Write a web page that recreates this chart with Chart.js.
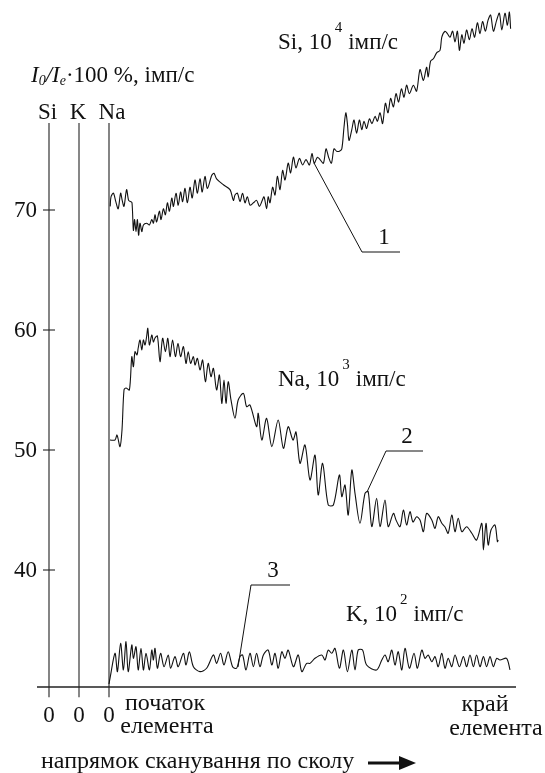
<!DOCTYPE html>
<html><head><meta charset="utf-8">
<script src="https://cdn.jsdelivr.net/npm/chart.js@4/dist/chart.umd.min.js"></script>
<style>html,body{margin:0;padding:0;background:#fff;}canvas{display:block;}</style>
</head><body>
<canvas id="c" width="545" height="773"></canvas>
<script>
// ---- data (scan position 0..100 %, chart units) ----
const siScan = [0.3,0.5,1.1,1.7,2.3,2.9,3.3,3.75,4.4,4.9,5.4,5.75,6.1,6.4,6.75,7.1,7.4,7.75,8.2,8.6,9.4,10.1,10.7,11.1,11.5,11.9,12.6,13.0,13.6,14.1,14.6,15.1,15.7,16.1,16.75,17.3,17.9,18.4,19.0,19.6,20.25,20.8,21.5,22.1,22.75,23.3,24.0,24.6,25.7,26.25,26.9,28.6,30.25,31.1,31.5,32.1,32.75,33.4,34.0,34.6,35.25,36.1,36.9,37.6,38.2,38.75,39.4,39.8,40.25,40.9,41.5,42.1,42.75,43.4,44.0,44.8,45.4,46.1,46.75,47.6,48.4,49.25,50.1,50.75,51.3,52.1,52.75,53.6,54.25,54.9,55.6,56.25,56.9,57.6,58.2,58.75,59.2,59.6,60.0,60.7,61.25,61.9,62.6,63.2,63.75,64.4,65.1,65.75,66.5,67.1,67.75,68.4,69.1,69.75,70.4,71.1,71.75,72.4,73.1,73.75,74.4,75.1,76.1,76.9,77.75,78.6,79.4,79.8,80.4,81.1,81.9,82.75,83.2,84.0,84.6,85.25,85.9,86.5,87.1,87.6,88.2,88.75,89.4,90.1,90.75,91.4,92.1,92.75,93.4,94.1,94.75,95.4,96.1,96.9,97.6,98.2,99.0,99.6,100.1,100.4];
const siValue = [70.3,71.1,71.4,70.7,70.1,71.4,70.8,70.3,71.7,70.8,70.7,70.6,68.3,69.2,68.2,69.2,67.9,68.9,68.2,68.75,68.9,68.75,69.2,68.9,69.6,69.0,69.9,69.2,70.1,69.6,70.6,69.9,71.0,70.3,71.4,70.4,71.5,70.7,71.8,70.6,71.9,71.0,72.5,71.4,72.6,71.5,72.8,71.8,72.9,73.06,72.6,72.1,71.7,70.8,71.25,71.4,70.7,71.4,70.6,71.1,70.4,70.6,70.8,70.3,70.7,71.1,70.1,71.1,70.6,71.9,71.25,72.8,71.7,73.3,72.5,73.9,73.1,74.4,73.5,74.3,73.75,74.2,73.75,74.7,73.9,74.4,74.2,73.9,75.1,74.4,73.9,75.1,74.9,74.9,75.1,76.9,78.1,77.2,75.8,76.7,77.5,76.4,77.5,76.7,77.4,76.8,77.6,77.2,77.8,77.4,78.1,77.2,78.9,78.1,79.3,78.6,79.7,79.0,80.1,79.4,80.4,79.7,80.4,79.9,81.7,80.8,81.9,81.1,82.4,82.6,83.1,83.3,84.4,84.9,84.7,84.4,84.9,84.0,84.9,83.3,84.6,83.9,85.0,84.2,85.1,84.4,85.6,84.7,85.7,84.9,85.8,86.25,84.9,85.8,86.4,85.0,86.4,85.4,86.5,85.1];

const naScan = [0.25,1.5,2.0,2.75,3.25,3.75,4.25,5.1,5.7,6.1,6.5,7.0,7.3,7.75,8.2,8.6,9.0,9.4,9.7,10.1,10.7,11.1,11.5,12.1,12.75,13.4,14.1,14.7,15.25,15.9,16.6,17.25,17.9,18.6,19.25,19.8,20.4,21.1,21.5,22.1,22.75,23.4,24.1,24.8,25.5,26.1,26.9,27.6,28.2,28.75,29.25,29.8,30.5,31.5,32.3,33.6,34.4,35.25,36.9,37.3,38.2,39.4,40.7,42.3,43.6,44.8,46.0,46.75,47.75,49.0,50.25,51.5,52.3,53.4,54.8,56.1,57.6,58.2,59.0,59.8,60.7,61.5,62.75,64.0,64.8,65.7,66.9,67.75,69.0,69.8,71.1,71.75,72.75,73.6,74.4,75.25,76.0,76.9,77.75,78.6,79.4,80.7,81.5,82.3,83.2,84.0,84.8,85.7,86.5,87.3,88.2,89.4,90.7,91.9,93.2,93.6,94.25,94.8,95.5,96.5,97.1,97.3];
const naValue = [50.83,50.83,51.25,50.28,51.67,55.0,55.17,55.0,57.78,56.94,58.19,57.92,58.5,59.17,58.33,59.17,58.75,59.44,60.14,58.75,59.58,59.0,59.33,59.5,57.36,59.31,58.19,59.31,57.78,59.17,57.78,58.89,57.78,58.61,57.22,58.19,57.22,57.78,57.08,57.64,56.67,57.5,55.69,57.22,56.11,56.81,55.0,56.25,53.89,55.83,53.89,55.69,54.17,52.64,54.17,54.72,53.61,53.75,51.94,53.06,50.83,52.64,50.28,52.5,50.14,51.94,50.83,51.5,48.89,50.42,47.5,49.58,46.25,48.89,45.42,45.42,47.92,46.11,47.08,44.58,48.33,46.39,43.89,46.39,46.53,43.61,45.97,43.61,45.83,43.61,44.72,44.17,43.61,45.0,43.75,44.86,44.0,44.44,44.17,43.19,44.72,44.17,43.47,44.44,43.89,43.58,43.06,44.58,43.19,44.31,43.19,43.61,43.06,42.5,43.89,41.67,43.89,42.08,43.33,43.75,42.36,42.5];

const kScan = [0,0.25,1.5,2.1,2.9,3.6,4.25,4.8,5.7,6.1,6.75,7.3,8.0,8.6,9.25,10.1,10.7,11.1,11.5,12.1,12.9,13.75,14.8,15.4,16.5,17.3,18.6,19.25,20.1,21.1,22.75,24.4,26.1,26.9,27.9,28.75,29.8,30.9,31.9,32.75,33.4,34.25,35.25,36.1,36.9,37.75,38.6,39.8,40.7,41.5,42.3,43.2,44.0,44.8,46.1,47.3,48.2,49.4,50.25,51.5,53.2,54.0,54.8,55.7,56.5,57.6,58.6,59.6,60.7,61.5,62.3,63.4,64.4,66.9,68.2,69.0,69.8,70.7,71.5,72.3,73.2,74.0,75.1,76.25,77.1,78.2,79.0,79.8,80.7,81.5,82.3,83.2,84.0,84.8,85.7,86.5,87.6,88.6,89.4,90.25,91.1,91.9,92.75,93.6,94.4,95.25,96.1,96.9,97.75,99.4,100.25];
const kValue = [30.5,30.97,33.06,31.53,33.89,31.67,34.03,31.53,33.75,32.64,33.61,31.67,33.47,31.67,33.06,31.67,33.33,32.5,33.47,31.81,33.06,31.94,32.92,31.81,32.78,31.94,33.06,32.08,33.19,31.94,31.53,31.81,32.92,32.22,33.06,32.08,33.19,31.94,31.81,32.78,32.92,31.67,33.06,31.94,33.06,31.94,32.92,33.33,32.08,33.06,31.81,33.19,32.64,33.33,31.94,32.92,31.53,32.22,32.22,32.64,32.92,32.5,33.33,33.06,33.47,31.81,33.33,31.53,33.33,31.67,33.33,33.33,32.08,31.67,32.5,32.92,32.36,33.33,32.08,33.19,31.67,33.47,31.81,33.06,31.81,33.33,32.64,32.92,32.36,32.78,31.94,33.06,31.81,32.64,31.94,32.92,31.94,32.78,31.94,32.92,31.94,32.92,31.94,32.78,31.94,32.78,31.94,32.64,32.5,32.64,31.67];

const elementNames = ['Si', 'K', 'Na'];
const elementAxisPos = [-15, -7.5, 0];
const yTickValues = [40, 50, 60, 70];
const axisTopValue = 77.25;
const axisBottomTick = 29.4;
const X_MIN = -18, X_MAX = 101.75, Y_MIN = 30.25, Y_MAX = 87.5;

function pts(xs, ys) {
  const n = Math.min(xs.length, ys.length);
  const out = [];
  for (let i = 0; i < n; i++) out.push({x: xs[i], y: ys[i]});
  return out;
}

const SERIF = '"Liberation Serif", "Times New Roman", serif';
const traceStyle = {borderColor: '#111', borderWidth: 1.1, pointRadius: 0, tension: 0.3, fill: false, clip: false};

const datasets = [
  Object.assign({label: 'Si', data: pts(siScan, siValue)}, traceStyle),
  Object.assign({label: 'Na', data: pts(naScan, naValue)}, traceStyle),
  Object.assign({label: 'K', data: pts(kScan, kValue)}, traceStyle),
];
elementNames.forEach((nm, i) => {
  datasets.push({label: nm + ' axis', data: [{x: elementAxisPos[i], y: axisTopValue}, {x: elementAxisPos[i], y: axisBottomTick}],
    borderColor: i === 1 ? '#555' : '#222', borderWidth: i === 1 ? 1.4 : 1.1, pointRadius: 0, tension: 0, clip: false});
});

function rich(ctx, x, y, parts) {
  let cx = x;
  parts.forEach(p => {
    ctx.font = p.font;
    ctx.fillText(p.t, cx, y + (p.dy || 0));
    cx += ctx.measureText(p.t).width + (p.gap || 0);
  });
}

const decor = {
  id: 'decor',
  afterDatasetsDraw(chart) {
    const ctx = chart.ctx;
    const xs = chart.scales.x, ys = chart.scales.y;
    ctx.save();
    ctx.fillStyle = '#111';
    ctx.strokeStyle = '#222';
    // bottom axis line
    ctx.lineWidth = 1.3;
    ctx.beginPath();
    ctx.moveTo(xs.getPixelForValue(X_MIN), ys.getPixelForValue(Y_MIN));
    ctx.lineTo(xs.getPixelForValue(X_MAX), ys.getPixelForValue(Y_MIN));
    ctx.stroke();
    const F = '23px ' + SERIF, FS = '15px ' + SERIF, FB = '24px ' + SERIF;
    // y ticks crossing Si axis
    const ax = xs.getPixelForValue(elementAxisPos[0]);
    ctx.lineWidth = 1.1;
    ctx.font = F;
    ctx.textAlign = 'right';
    ctx.textBaseline = 'middle';
    yTickValues.forEach(v => {
      const py = ys.getPixelForValue(v);
      ctx.beginPath();
      ctx.moveTo(ax - 6, py); ctx.lineTo(ax + 6, py); ctx.stroke();
      ctx.fillText(String(v), ax - 12, py + 1);
    });
    // element names above axes and zeros below
    ctx.textAlign = 'center';
    ctx.textBaseline = 'alphabetic';
    const nameShift = [-1.5, -1, 3];
    elementNames.forEach((nm, i) => {
      const px = xs.getPixelForValue(elementAxisPos[i]);
      ctx.fillText(nm, px + nameShift[i], 119);
      ctx.fillText('0', px, 722);
    });
    // leader lines
    ctx.lineWidth = 1;
    ctx.strokeStyle = '#111';
    const leaders = [[[314,163],[362,252],[400,252]], [[367,492],[386,451],[423,451]], [[238,667],[251,585],[290,585]]];
    leaders.forEach(l => {
      ctx.beginPath(); ctx.moveTo(l[0][0], l[0][1]); ctx.lineTo(l[1][0], l[1][1]); ctx.lineTo(l[2][0], l[2][1]); ctx.stroke();
    });
    ctx.textBaseline = 'alphabetic';
    ctx.fillText('1', 384, 244);
    ctx.fillText('2', 407, 443);
    ctx.fillText('3', 273, 577);
    // series labels
    ctx.textAlign = 'left';
    rich(ctx, 278, 49, [{t: 'Si, 10', font: F, gap: 3}, {t: '4', font: FS, dy: -17, gap: 6}, {t: 'імп/с', font: F}]);
    rich(ctx, 278, 386, [{t: 'Na, 10', font: F, gap: 3}, {t: '3', font: FS, dy: -17, gap: 6}, {t: 'імп/с', font: F}]);
    rich(ctx, 346, 621, [{t: 'K, 10', font: F, gap: 3}, {t: '2', font: FS, dy: -17, gap: 6}, {t: 'імп/с', font: F}]);
    const FI = 'italic 23px ' + SERIF, FIS = 'italic 14px ' + SERIF;
    rich(ctx, 31, 82, [{t: 'I', font: FI}, {t: '0', font: FIS, dy: 3}, {t: '/', font: FI}, {t: 'I', font: FI}, {t: 'e', font: FIS, dy: 3}, {t: '·100 %, імп/с', font: F}]);
    // bottom texts
    ctx.textAlign = 'center';
    ctx.font = FB;
    ctx.fillText('початок', 165, 710);
    ctx.fillText('елемента', 167, 733);
    ctx.fillText('край', 485, 711);
    ctx.fillText('елемента', 496, 735);
    ctx.textAlign = 'left';
    ctx.fillText('напрямок сканування по сколу', 41, 768);
    // arrow
    ctx.lineWidth = 3;
    ctx.beginPath(); ctx.moveTo(368, 763); ctx.lineTo(402, 763); ctx.stroke();
    ctx.beginPath(); ctx.moveTo(399, 756); ctx.lineTo(416, 763); ctx.lineTo(399, 770); ctx.closePath(); ctx.fill();
    ctx.restore();
  }
};

new Chart(document.getElementById('c'), {
  type: 'line',
  data: {datasets},
  options: {
    responsive: false,
    animation: false,
    devicePixelRatio: 1,
    layout: {padding: {left: 37, right: 29, top: 0, bottom: 86}},
    plugins: {legend: {display: false}, tooltip: {enabled: false}},
    scales: {
      x: {type: 'linear', min: X_MIN, max: X_MAX, display: false},
      y: {type: 'linear', min: Y_MIN, max: Y_MAX, display: false}
    }
  },
  plugins: [decor]
});
</script>
</body></html>
